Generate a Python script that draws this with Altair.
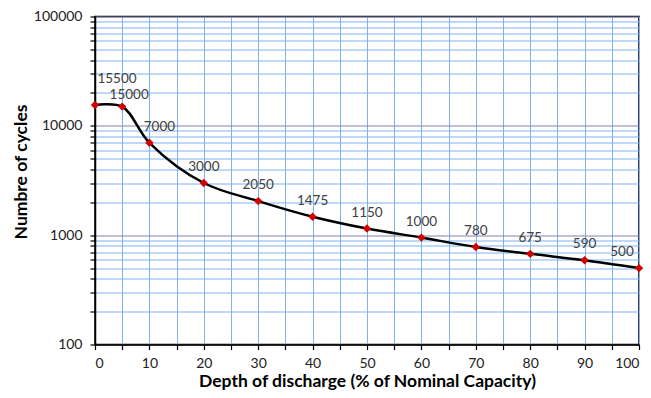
import altair as alt
import pandas as pd

dod = [0, 5, 10, 20, 30, 40, 50, 60, 70, 80, 90, 100]
cycles = [15500, 15000, 7000, 3000, 2050, 1475, 1150, 950, 780, 675, 590, 500]
labels = ["15500", "15000", "7000", "3000", "2050", "1475", "1150", "1000", "780", "675", "590", "500"]

x_ticks = [0, 5, 10, 15, 20, 25, 30, 35, 40, 45, 50, 55, 60, 65, 70, 75, 80, 85, 90, 95, 100]
y_ticks = [100, 200, 300, 400, 500, 600, 700, 800, 900,
           1000, 2000, 3000, 4000, 5000, 6000, 7000, 8000, 9000,
           10000, 20000, 30000, 40000, 50000, 60000, 70000, 80000, 90000,
           100000]
y_major = [100, 1000, 10000, 100000]

df = pd.DataFrame({"dod": dod, "cycles": cycles, "label": labels})

FONT = "Lato"
BLUE = "#7DB1F2"
MAJOR = "#7F84AC"
major_test = " || ".join(f"datum.value === {v}" for v in y_major)

x_enc = alt.X(
    "dod:Q",
    scale=alt.Scale(domain=[0, 100], nice=False, zero=False),
    axis=alt.Axis(
        values=x_ticks,
        labelExpr="datum.value % 10 === 0 ? datum.label : ''",
        title="Depth of discharge (% of Nominal Capacity)",
        grid=True, gridColor=BLUE, gridWidth=1,
        tickSize=5, labelPadding=7,
        titleY=37, titleBaseline="middle",
    ),
)
y_enc = alt.Y(
    "cycles:Q",
    scale=alt.Scale(type="log", domain=[100, 100000], nice=False),
    axis=alt.Axis(
        values=y_ticks,
        labelExpr=f"({major_test}) ? format(datum.value, 'd') : ''",
        title="Numbre of cycles",
        grid=True,
        gridColor={"condition": {"test": major_test, "value": MAJOR}, "value": BLUE},
        gridWidth=1,
        tickSize=5, labelPadding=8,
        titleX=-74, titleY=155, titleBaseline="middle",
    ),
)

base = alt.Chart(df).encode(x=x_enc, y=y_enc)

line = base.mark_line(interpolate="catmull-rom", color="black", strokeWidth=2.5)
pts = base.mark_point(shape="diamond", filled=True, color="#D40000", size=70, opacity=1)

def txt(flt, dx, dy):
    return base.mark_text(dx=dx, dy=dy, fontSize=13.5, font=FONT, color="#404040").encode(
        text="label:N"
    ).transform_filter(flt)

layers = [
    line, pts,
    txt("datum.dod >= 20 && datum.dod <= 90", 0, -16),
    txt("datum.dod === 0", 22, -26),
    txt("datum.dod === 5", 7, -12),
    txt("datum.dod === 10", 10, -16),
    txt("datum.dod === 100", -17, -16),
]

chart = alt.layer(*layers).properties(
    width=544, height=328,
    autosize=alt.AutoSizeParams(type="none"),
    padding={"left": 87, "top": 8.5, "right": 4, "bottom": 50},
    background="white",
).configure_view(
    stroke="black", strokeWidth=1.5
).configure_axis(
    domainColor="black", domainWidth=1.5, tickColor="black", tickWidth=1.2,
    labelFont=FONT, labelFontSize=14, labelColor="#222222",
    titleFont=FONT, titleFontSize=17.5, titleFontWeight="bold", titleColor="black",
)

chart.save("out.html", embed_options={"renderer": "svg", "actions": False})
